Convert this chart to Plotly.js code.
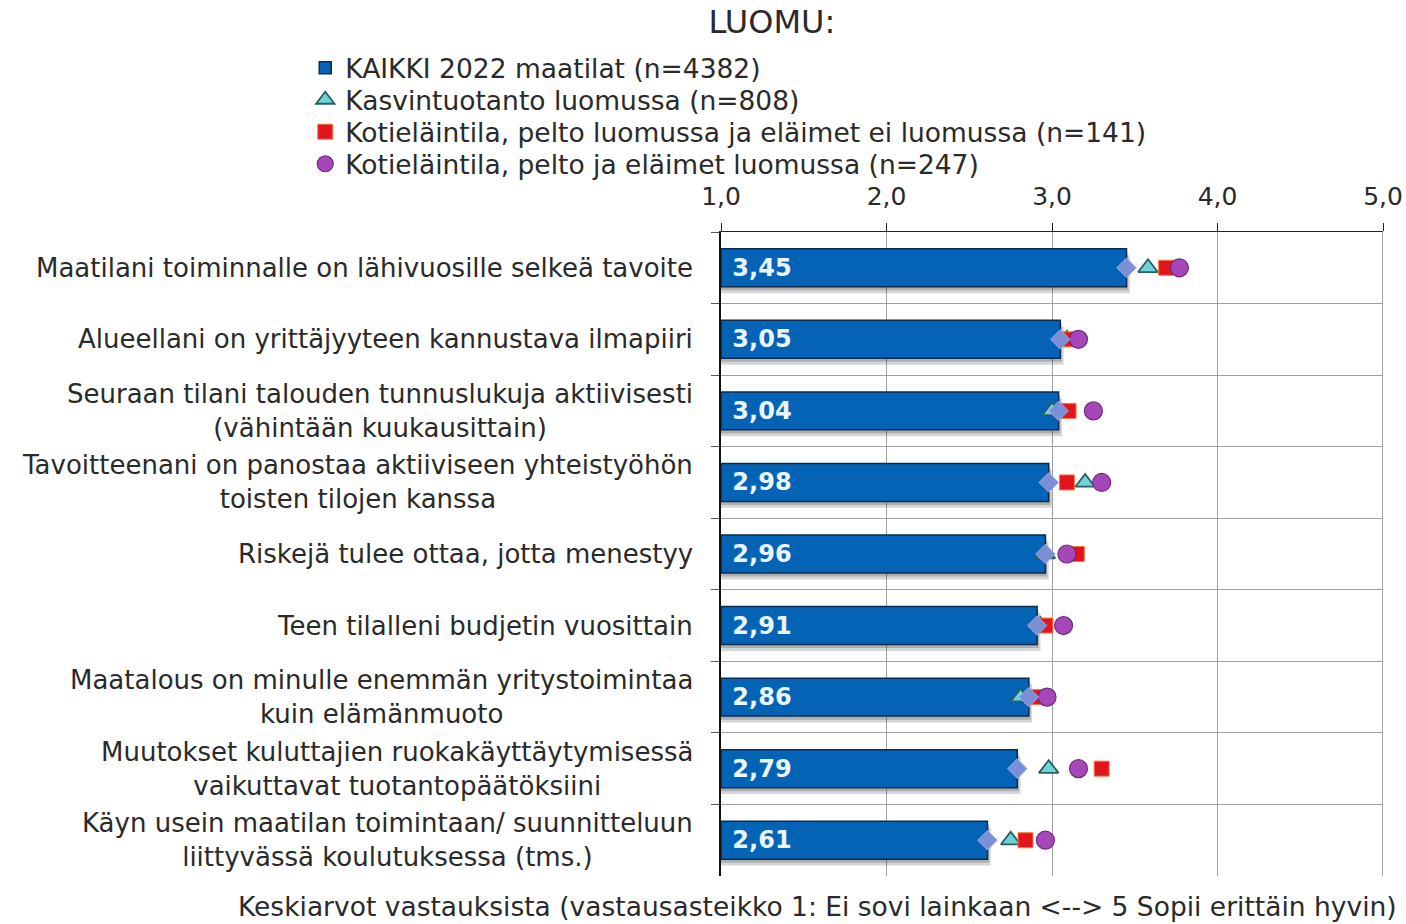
<!DOCTYPE html>
<html>
<head>
<meta charset="utf-8">
<script src="https://cdn.plot.ly/plotly-3.0.1.min.js"></script>
<style>
html,body{margin:0;padding:0;background:#fff;}
#chart{width:1406px;height:924px;}
</style>
</head>
<body>
<div id="chart"></div>
<script>
var categories = [
  "Maatilani toiminnalle on lähivuosille selkeä tavoite",
  "Alueellani on yrittäjyyteen kannustava ilmapiiri",
  "Seuraan tilani talouden tunnuslukuja aktiivisesti<br>(vähintään kuukausittain)",
  "Tavoitteenani on panostaa aktiiviseen yhteistyöhön<br>toisten tilojen kanssa",
  "Riskejä tulee ottaa, jotta menestyy",
  "Teen tilalleni budjetin vuosittain",
  "Maatalous on minulle enemmän yritystoimintaa<br>kuin elämänmuoto",
  "Muutokset kuluttajien ruokakäyttäytymisessä<br>vaikuttavat tuotantopäätöksiini",
  "Käyn usein maatilan toimintaan/ suunnitteluun<br>liittyvässä koulutuksessa (tms.)"
];
var kaikki = [3.45, 3.05, 3.04, 2.98, 2.96, 2.91, 2.86, 2.79, 2.61];
var kasvintuotanto = [3.58, 3.09, 3.00, 3.20, 2.96, 2.93, 2.81, 2.98, 2.75];
var kotielainPelto = [3.69, 3.10, 3.10, 3.09, 3.15, 2.96, 2.91, 3.30, 2.84];
var kotielainMolemmat = [3.77, 3.16, 3.25, 3.30, 3.09, 3.07, 2.97, 3.16, 2.96];
var seriesNames = [
  "KAIKKI 2022 maatilat (n=4382)",
  "Kasvintuotanto luomussa (n=808)",
  "Kotieläintila, pelto luomussa ja eläimet ei luomussa (n=141)",
  "Kotieläintila, pelto ja eläimet luomussa (n=247)"
];
var xTicks = [1, 2, 3, 4, 5];
var scaleMin = 1;
var scaleMax = 5;

var FONT = "DejaVu Sans, Verdana, sans-serif";
var TXT = "#2a2a2a";

// bars start at the scale minimum (1,0); length = value - minimum
var barLen = kaikki.map(function (v) { return v - scaleMin; });

var traces = [
  {
    type: "bar", orientation: "h", showlegend: false, hoverinfo: "skip",
    x: barLen.map(function (v) { return v + 0.02; }), y: categories, base: scaleMin,
    width: 0.53, offset: -0.265 + 0.09,
    marker: {color: "rgba(70,70,70,0.22)", line: {width: 0}}
  },
  {
    type: "bar", orientation: "h", showlegend: false, hoverinfo: "skip",
    x: barLen.map(function (v) { return v + 0.01; }), y: categories, base: scaleMin,
    width: 0.53, offset: -0.265 + 0.05,
    marker: {color: "rgba(60,60,60,0.25)", line: {width: 0}}
  },
  {
    type: "bar", orientation: "h", name: seriesNames[0], legend: "legend",
    x: barLen, y: categories, base: scaleMin, customdata: kaikki,
    width: 0.53, offset: -0.265,
    marker: {color: "#0563b6", line: {color: "#0b2c52", width: 1.5}},
    texttemplate: " %{customdata:.2f}", textposition: "inside", insidetextanchor: "start",
    textfont: {family: FONT, size: 24, color: "#eaf6ff", weight: "bold"},
    hoverinfo: "skip"
  },
  {
    type: "scatter", mode: "markers", name: seriesNames[1], legend: "legend2",
    x: kasvintuotanto, y: categories,
    marker: {symbol: "triangle-up", size: 17, color: "#6fd3da", line: {color: "#2b5f62", width: 1.8}}
  },
  {
    type: "scatter", mode: "markers", name: seriesNames[2], legend: "legend3",
    x: kotielainPelto, y: categories,
    marker: {symbol: "square", size: 15, color: "#e3141c", line: {color: "#f07a40", width: 1}}
  },
  {
    type: "scatter", mode: "markers", name: seriesNames[3], legend: "legend4",
    x: kotielainMolemmat, y: categories,
    marker: {symbol: "circle", size: 18, color: "#a646b8", line: {color: "#6e2a80", width: 1.2}}
  },
  {
    type: "scatter", mode: "markers", name: seriesNames[0], showlegend: false,
    x: kaikki, y: categories,
    marker: {symbol: "diamond", size: 15, color: "#7b8fd6", line: {color: "#9aa6e0", width: 1}}
  }
];

var annotations = categories.map(function (c) {
  return {
    xref: "paper", yref: "y", x: -0.039, y: c, xanchor: "right", yanchor: "middle",
    text: c, align: "center", showarrow: false,
    font: {family: FONT, size: 26, color: TXT}
  };
});
annotations.push({
  xref: "paper", yref: "paper", x: 0.1465, y: -0.047, xanchor: "center", yanchor: "middle",
  text: "Keskiarvot vastauksista (vastausasteikko 1: Ei sovi lainkaan <--> 5 Sopii erittäin hyvin)",
  showarrow: false, font: {family: FONT, size: 26.5, color: TXT}
});

function legendAt(py) {
  return {
    x: -0.628, y: (876 - py) / 644, xanchor: "left", yanchor: "middle",
    font: {family: FONT, size: 26.5, color: TXT},
    bgcolor: "rgba(0,0,0,0)", itemwidth: 30
  };
}

var layout = {
  width: 1406, height: 924,
  margin: {l: 721, r: 23, t: 232, b: 48, pad: 0},
  paper_bgcolor: "#ffffff", plot_bgcolor: "#ffffff",
  separators: ",.",
  font: {family: FONT, size: 26, color: TXT},
  title: {
    text: "LUOMU:", xref: "container", x: 0.549, xanchor: "center",
    yref: "container", y: 0.976, yanchor: "middle",
    font: {family: FONT, size: 32, color: TXT}
  },
  showlegend: true,
  legend: legendAt(68),
  legend2: legendAt(100),
  legend3: legendAt(132),
  legend4: legendAt(164),
  barmode: "overlay",
  xaxis: {
    side: "top", range: [scaleMin, scaleMax], tickvals: xTicks, tickformat: ".1f",
    showgrid: true, gridcolor: "#a0a0a0", gridwidth: 1,
    showline: true, linecolor: "#222", linewidth: 1.5,
    ticks: "outside", ticklen: 8, tickcolor: "#222", ticklabelstandoff: 8,
    tickfont: {family: FONT, size: 25, color: TXT},
    zeroline: false, fixedrange: true
  },
  yaxis: {
    type: "category", range: [categories.length - 0.5, -0.5], tickson: "boundaries",
    showticklabels: false, showgrid: true, gridcolor: "#a0a0a0", gridwidth: 1,
    showline: true, linecolor: "#111", linewidth: 2,
    ticks: "outside", ticklen: 8, tickcolor: "#555",
    zeroline: false, fixedrange: true
  },
  shapes: [{
    type: "line", xref: "x", x0: scaleMax, x1: scaleMax, yref: "paper", y0: 0, y1: 1,
    line: {color: "#8a8a8a", width: 1.5}, layer: "below"
  }],
  annotations: annotations
};

Plotly.newPlot("chart", traces, layout, {displayModeBar: false, staticPlot: true});
</script>
</body>
</html>
